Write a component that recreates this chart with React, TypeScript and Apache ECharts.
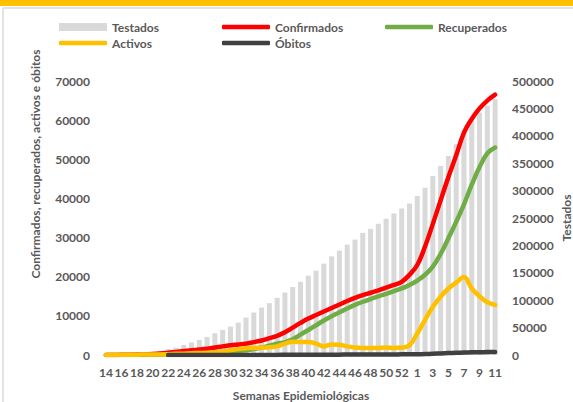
import React, { useEffect, useRef } from 'react';
import * as echarts from 'echarts';

const weeks = [
  '14', '15', '16', '17', '18', '19', '20', '21', '22', '23', '24', '25', '26', '27', '28', '29', '30',
  '31', '32', '33', '34', '35', '36', '37', '38', '39', '40', '41', '42', '43', '44', '45', '46', '47',
  '48', '49', '50', '51', '52', '53', '1', '2', '3', '4', '5', '6', '7', '8', '9', '10', '11',
];

const testados = [
  500, 800, 1200, 1800, 2500, 3500, 5000, 7500, 11000, 13400, 18300, 23000, 27500, 33000, 39700,
  45800, 51800, 59000, 68300, 77500, 86600, 94600, 104400, 114000, 124000, 133700, 144700, 153800,
  166700, 180000, 190500, 201500, 210600, 222900, 230200, 239400, 248500, 258200, 267400, 276600,
  290000, 305300, 326600, 344900, 363200, 384600, 409000, 427300, 442600, 454800, 467000,
];

const confirmados = [
  10, 20, 40, 70, 100, 150, 250, 400, 600, 800, 1000, 1200, 1400, 1600, 1900, 2200, 2500, 2700,
  2900, 3300, 3700, 4300, 4900, 5800, 7000, 8200, 9300, 10200, 11100, 12000, 12900, 13800, 14600,
  15300, 15900, 16500, 17200, 17900, 18700, 20500, 23000, 27700, 33500, 39500, 45500, 51000, 56800,
  60300, 63000, 65000, 66500,
];

const recuperados = [
  0, 0, 0, 0, 10, 20, 50, 80, 120, 160, 200, 250, 350, 450, 550, 700, 850, 1000, 1200, 1500, 1900,
  2400, 2900, 3300, 4000, 5200, 6400, 7600, 8800, 9900, 10900, 11900, 12800, 13600, 14300, 15000,
  15600, 16300, 17000, 17900, 19000, 20500, 22600, 25800, 29800, 34000, 38500, 43500, 48000, 51500,
  53000,
];

const activos = [
  10, 30, 50, 70, 90, 120, 150, 150, 200, 300, 350, 450, 500, 550, 650, 900, 1200, 1500, 1700, 1800,
  1900, 2000, 2200, 2900, 3400, 3300, 3300, 2900, 2200, 2700, 2600, 2200, 1900, 1800, 1800, 1800,
  1900, 1800, 1900, 2500, 5500, 9000, 12300, 14900, 17000, 18500, 19900, 17000, 15000, 13500, 12800,
];

const obitos = [
  null, null, null, null, null, null, null, null, 1, 1, 2, 2, 4, 6, 8, 9, 11, 13, 17, 20, 24, 28,
  31, 38, 50, 60, 66, 73, 80, 88, 95, 105, 114, 125, 133, 138, 145, 150, 160, 170, 190, 240, 320,
  410, 500, 570, 620, 680, 710, 740, 760,
];

const FONT = 'Lato';
const TXT = '#595959';

export default function App() {
  const ref = useRef<HTMLDivElement>(null);

  useEffect(() => {
    document.body.style.margin = '0';
    const chart = echarts.init(ref.current as HTMLDivElement, null, { renderer: 'svg' });

    const lineSeries = (name: string, data: (number | null)[], color: string) => ({
      name,
      type: 'line',
      data,
      yAxisIndex: 0,
      smooth: 0.4,
      symbol: 'none',
      showSymbol: false,
      connectNulls: false,
      itemStyle: { color },
      lineStyle: { width: 4.5, color, cap: 'round', join: 'round' },
    });

    const legendText = { color: TXT, fontFamily: FONT, fontWeight: 'bold', fontSize: 12 };
    const legendBase = {
      itemWidth: 48,
      itemGap: 0,
      padding: 0,
      selectedMode: false,
      textStyle: legendText,
    };
    const plain = (v: number) => String(v);

    chart.setOption({
      animation: false,
      backgroundColor: '#ffffff',
      legend: [
        { ...legendBase, left: 59, top: 21, itemHeight: 8, icon: 'rect', data: ['Testados'] },
        { ...legendBase, left: 222, top: 21, itemHeight: 4.5, icon: 'roundRect', data: ['Confirmados'] },
        { ...legendBase, left: 385, top: 21, itemHeight: 4.5, icon: 'roundRect', data: ['Recuperados'] },
        { ...legendBase, left: 59, top: 37, itemHeight: 4.5, icon: 'roundRect', data: ['Activos'] },
        { ...legendBase, left: 222, top: 37, itemHeight: 4.5, icon: 'roundRect', data: ['Óbitos'] },
      ],
      grid: { left: 102, right: 74, top: 81, bottom: 47, containLabel: false },
      xAxis: {
        type: 'category',
        data: weeks,
        boundaryGap: true,
        axisLine: { show: false },
        axisTick: { show: false },
        axisLabel: {
          interval: 1,
          margin: 11,
          color: TXT,
          fontFamily: FONT,
          fontWeight: 'bold',
          fontSize: 12,
        },
      },
      yAxis: [
        {
          type: 'value',
          position: 'left',
          min: 0,
          max: 70000,
          interval: 10000,
          splitLine: { show: false },
          axisLine: { show: false },
          axisTick: { show: false },
          axisLabel: { margin: 12, color: TXT, fontFamily: FONT, fontWeight: 'bold', fontSize: 12, formatter: plain },
        },
        {
          type: 'value',
          position: 'right',
          min: 0,
          max: 500000,
          interval: 50000,
          splitLine: { show: false },
          axisLine: { show: false },
          axisTick: { show: false },
          axisLabel: { margin: 13, color: TXT, fontFamily: FONT, fontWeight: 'bold', fontSize: 12, formatter: plain },
        },
      ],
      series: [
        {
          name: 'Testados',
          type: 'bar',
          yAxisIndex: 1,
          data: testados,
          barWidth: 5,
          itemStyle: { color: '#D9D9D9' },
        },
        lineSeries('Confirmados', confirmados, '#FF0000'),
        lineSeries('Recuperados', recuperados, '#70AD47'),
        lineSeries('Activos', activos, '#FFC000'),
        lineSeries('Óbitos', obitos, '#404040'),
      ],
      graphic: [
        { type: 'rect', shape: { x: 0, y: 0, width: 573, height: 6 }, style: { fill: '#FFC000' }, silent: true },
        { type: 'line', shape: { x1: 3, y1: 8, x2: 573, y2: 8 }, style: { stroke: '#D9D9D9', lineWidth: 1.5 }, silent: true },
        { type: 'line', shape: { x1: 3, y1: 8, x2: 3, y2: 402 }, style: { stroke: '#D9D9D9', lineWidth: 1.5 }, silent: true },
        {
          type: 'text',
          x: 35,
          y: 164,
          rotation: Math.PI / 2,
          style: {
            text: 'Confirmados, recuperados, activos e óbitos',
            fill: TXT,
            fontFamily: FONT,
            fontWeight: 'bold',
            fontSize: 12,
            align: 'center',
            verticalAlign: 'middle',
          },
        },
        {
          type: 'text',
          x: 566,
          y: 218,
          rotation: Math.PI / 2,
          style: {
            text: 'Testados',
            fill: TXT,
            fontFamily: FONT,
            fontWeight: 'bold',
            fontSize: 12,
            align: 'center',
            verticalAlign: 'middle',
          },
        },
        {
          type: 'text',
          x: 301,
          y: 395,
          style: {
            text: 'Semanas Epidemiológicas',
            fill: TXT,
            fontFamily: FONT,
            fontWeight: 'bold',
            fontSize: 12,
            align: 'center',
            verticalAlign: 'middle',
          },
        },
      ],
    });

    return () => {
      chart.dispose();
    };
  }, []);

  return <div ref={ref} style={{ width: 573, height: 402 }} />;
}
